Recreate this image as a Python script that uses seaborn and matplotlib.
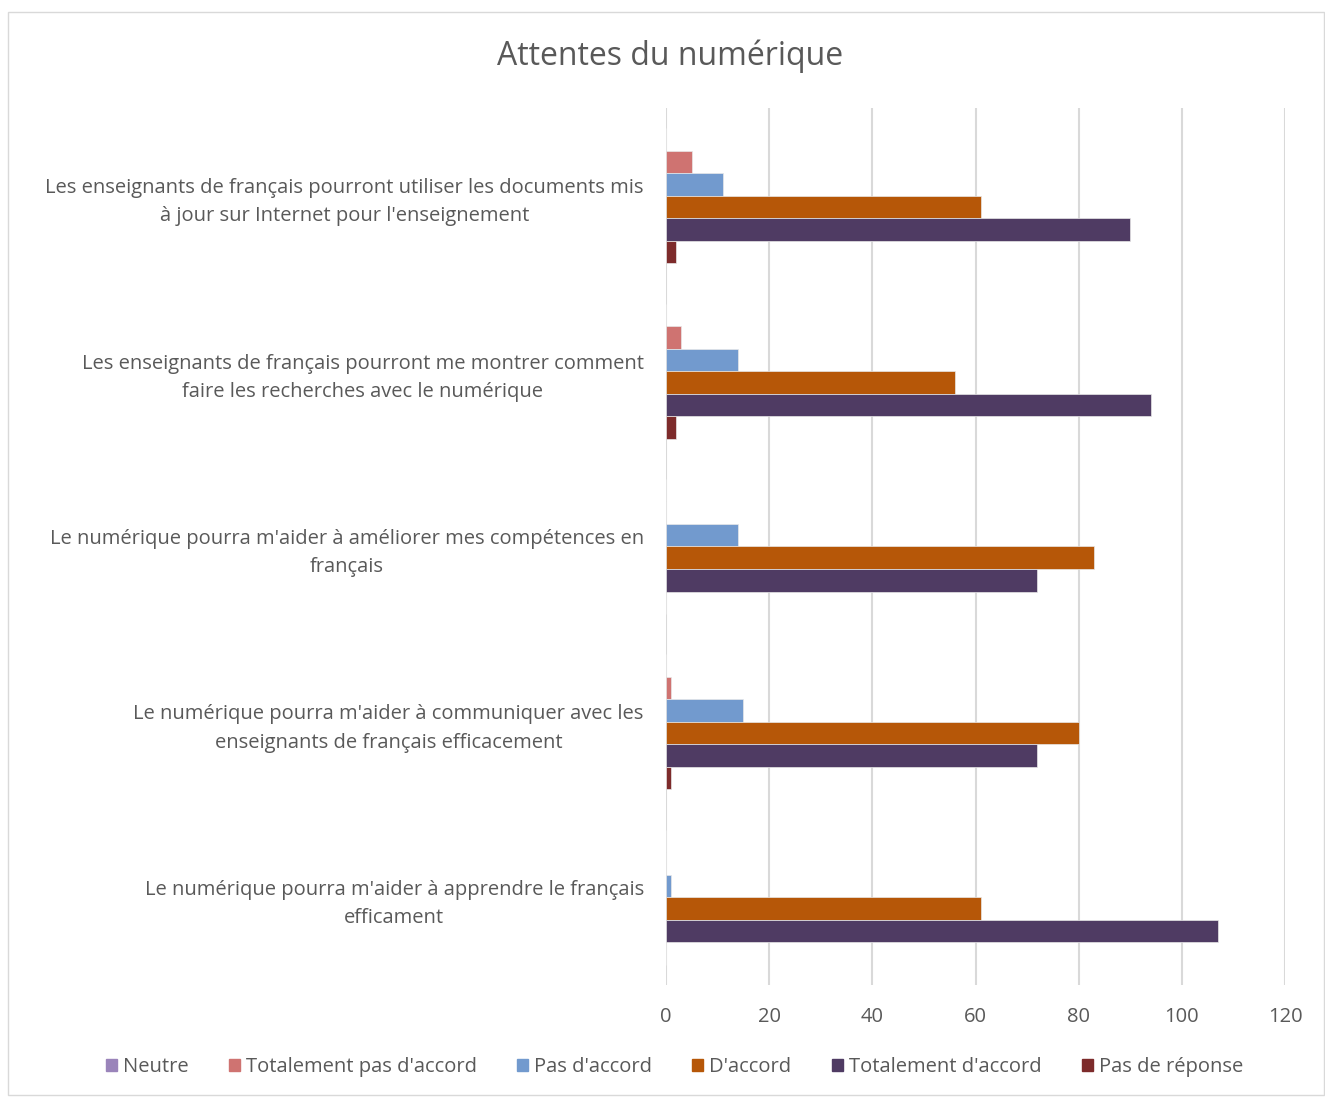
import pandas as pd
import matplotlib.pyplot as plt
import matplotlib.patches as mpatches
import seaborn as sns

# Data
questions = [
    "Les enseignants de français pourront utiliser les documents mis\nà jour sur Internet pour l'enseignement",
    "Les enseignants de français pourront me montrer comment\nfaire les recherches avec le numérique",
    "Le numérique pourra m'aider à améliorer mes compétences en\nfrançais",
    "Le numérique pourra m'aider à communiquer avec les\nenseignants de français efficacement",
    "Le numérique pourra m'aider à apprendre le français\nefficament",
]
series = ["Neutre", "Totalement pas d'accord", "Pas d'accord", "D'accord",
          "Totalement d'accord", "Pas de réponse"]
neutre = [0, 0, 0, 0, 0]
tot_pas_accord = [5, 3, 0, 1, 0]
pas_accord = [11, 14, 14, 15, 1]
accord = [61, 56, 83, 80, 61]
tot_accord = [90, 94, 72, 72, 107]
pas_reponse = [2, 2, 0, 1, 0]
colors = ["#9A84BA", "#CF7371", "#729ACE", "#B65708", "#4F3B63", "#7D2B2B"]

values = [neutre, tot_pas_accord, pas_accord, accord, tot_accord, pas_reponse]
rows = []
for s, vals in zip(series, values):
    for q, v in zip(questions, vals):
        rows.append({"question": q, "serie": s, "valeur": v})
df = pd.DataFrame(rows)

sns.set_style("white")
plt.rcParams["font.family"] = ["Open Sans", "DejaVu Sans"]
text_color = "#595959"

fig = plt.figure(figsize=(13.25, 10.97), dpi=100)
ax = fig.add_axes([666 / 1325, 1 - 985 / 1097, (1285 - 666) / 1325, (985 - 108) / 1097])

sns.barplot(data=df, x="valeur", y="question", hue="serie", hue_order=series,
            order=questions, palette=colors, orient="h", width=0.77,
            saturation=1, ax=ax, legend=True, linewidth=0.5, edgecolor="#E8E8E8")

ax.set_xlim(0, 120)
ax.set_ylim(4.5, -0.5)
ax.set_xticks(range(0, 121, 20))
ax.xaxis.grid(True, color="#D9D9D9", linewidth=1.5)
ax.set_axisbelow(True)
for sp in ax.spines.values():
    sp.set_visible(False)
ax.tick_params(axis="both", length=0, colors=text_color, labelsize=14.5)
ax.tick_params(axis="x", pad=16)
ax.tick_params(axis="y", pad=16)
for lab in ax.get_yticklabels():
    lab.set_multialignment("center")
    lab.set_linespacing(1.55)
ax.set_xlabel("")
ax.set_ylabel("")

ax.get_legend().remove()
handles = [mpatches.Patch(color=c) for c in colors]
fig.legend(handles, series, loc="center", bbox_to_anchor=(0.509, 1 - 1067 / 1097),
           ncol=6, frameon=False, fontsize=14.5, handlelength=0.55, handleheight=0.55,
           handletextpad=0.3, columnspacing=2.0, labelcolor=text_color)

fig.text(0.506, 1 - 56 / 1097, "Attentes du numérique", ha="center", va="center",
         fontsize=23, color=text_color)

# light frame around the chart area
fig.patches.append(mpatches.Rectangle((8 / 1325, 0.002), 1 - 9 / 1325, 1 - 12 / 1097 - 0.002,
                                      transform=fig.transFigure, fill=False,
                                      edgecolor="#D9D9D9", linewidth=1))

fig.savefig("out.png", dpi=100)
